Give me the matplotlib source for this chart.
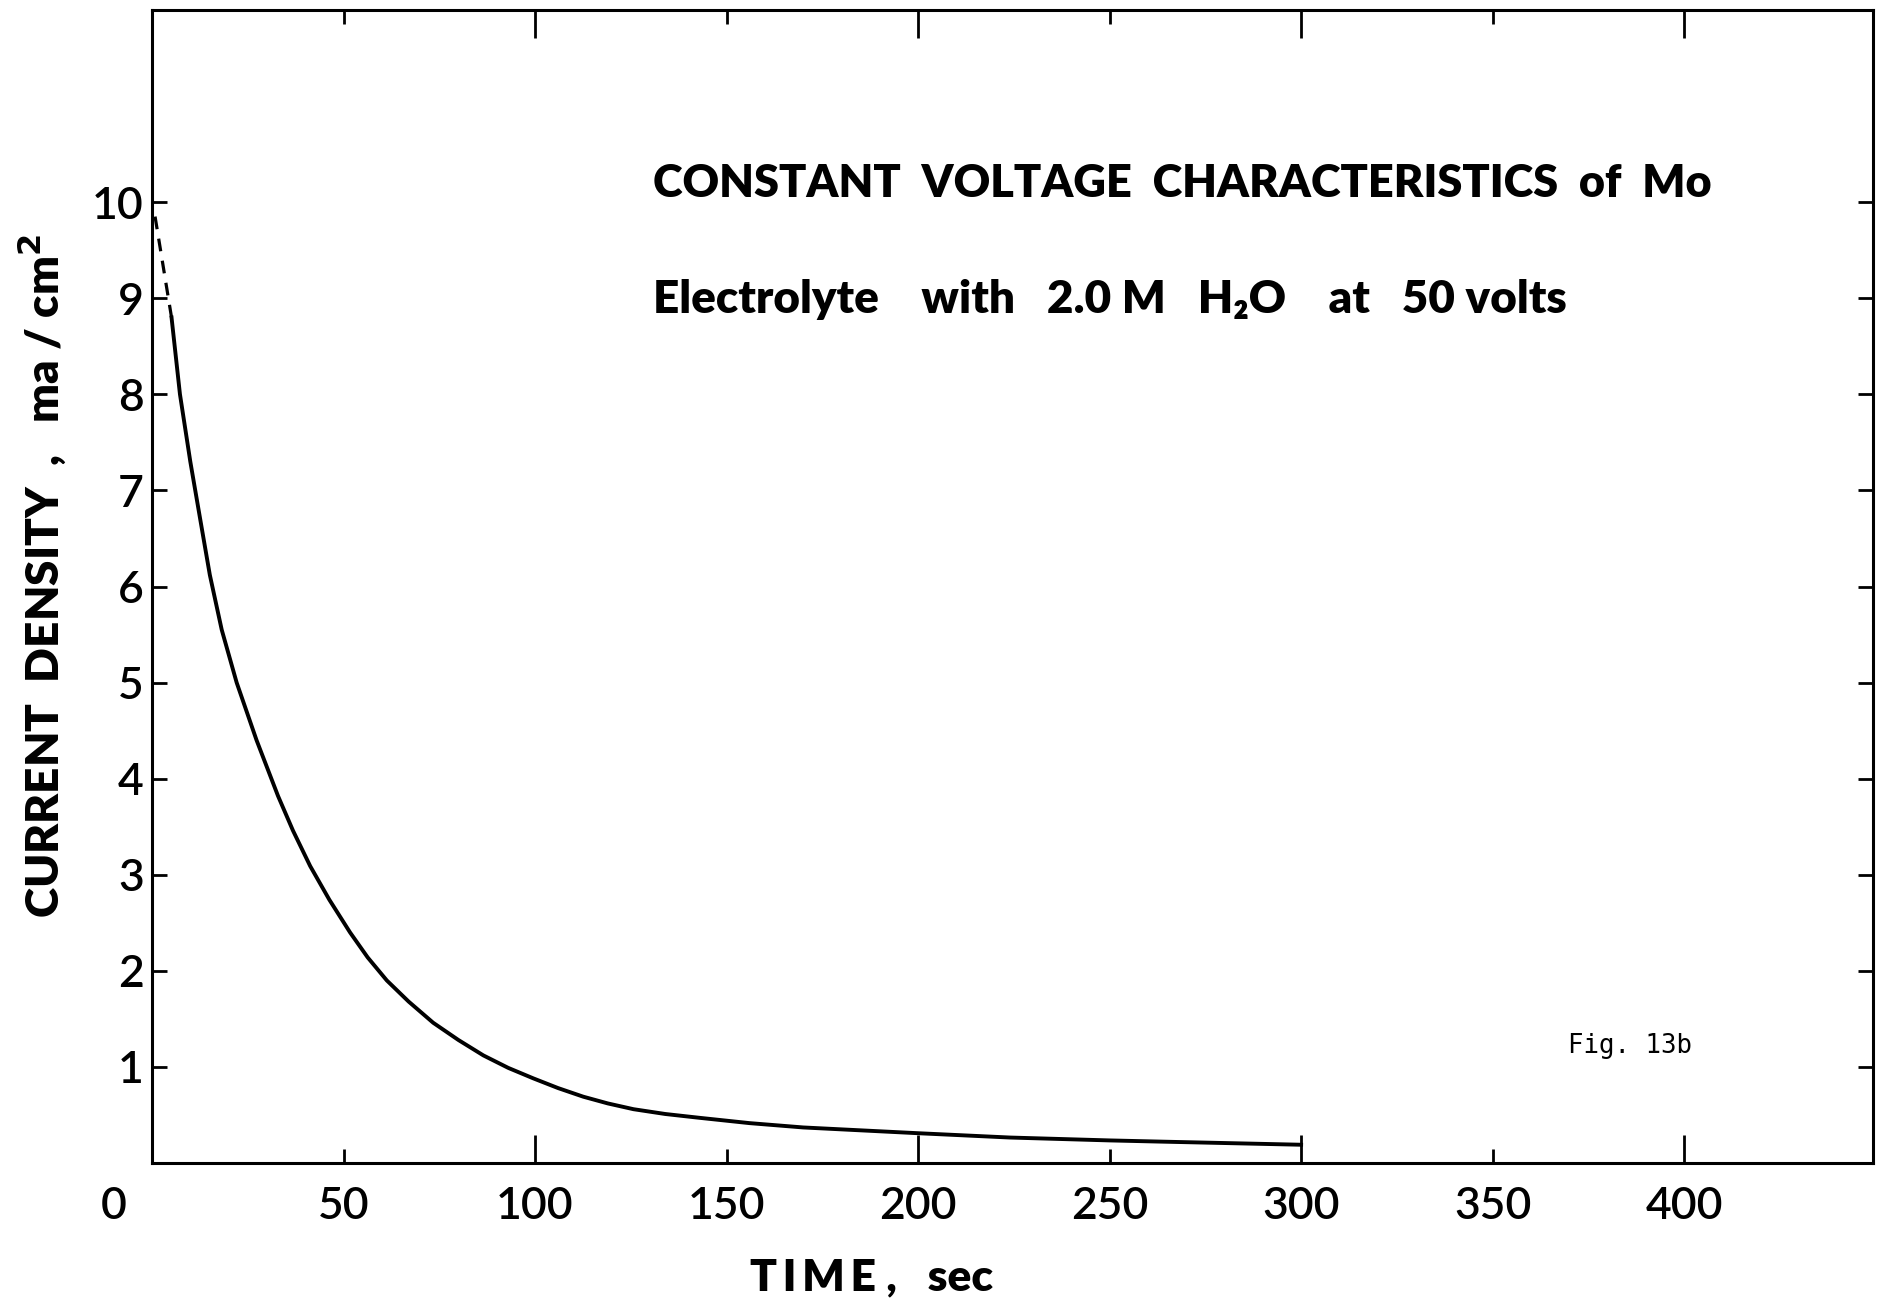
import matplotlib
matplotlib.use("Agg")
import matplotlib.pyplot as plt

# current density vs time
t_extrap = [0.8, 5.1]
j_extrap = [9.85, 8.8]

t_sec = [5.1, 7.3, 10.0, 12.5, 15.1, 18.2, 22.1, 27.3, 32.9, 36.8, 41.3, 46.3,
         51.7, 56.3, 61.3, 67.0, 73.4, 80.0, 86.5, 93.0, 99.6, 106.0, 112.6,
         119.0, 125.7, 134.0, 143.0, 156.0, 170.0, 185.0, 200.0, 224.0, 250.0,
         264.0, 300.0]
j_ma = [8.8, 8.0, 7.3, 6.72, 6.12, 5.55, 5.0, 4.4, 3.82, 3.46, 3.09, 2.74,
        2.40, 2.14, 1.90, 1.68, 1.46, 1.28, 1.12, 0.99, 0.88, 0.78, 0.69,
        0.62, 0.56, 0.51, 0.47, 0.415, 0.37, 0.34, 0.31, 0.265, 0.235,
        0.222, 0.19]

x_major = [100, 200, 300, 400]
x_minor = [50, 150, 250, 350]
x_ticklabels = ["50", "100", "150", "200", "250", "300", "350", "400"]
y_ticks = [1, 2, 3, 4, 5, 6, 7, 8, 9, 10]

title1 = "CONSTANT  VOLTAGE  CHARACTERISTICS  of  Mo"
title2 = "Electrolyte    with   2.0 M   H\u2082O    at   50 volts"

FONT = ["Lato", "DejaVu Sans"]
plt.rcParams["font.family"] = FONT

fig = plt.figure(figsize=(18.8, 13.07), dpi=100)
ax = fig.add_axes([152 / 1880, 1 - 1163 / 1307, (1873 - 152) / 1880, (1163 - 10) / 1307])

ax.plot(t_extrap, j_extrap, color="black", lw=2.3, ls=(0, (4, 3)))
ax.plot(t_sec, j_ma, color="black", lw=2.8, solid_joinstyle="round")

ax.set_xlim(0, 449.3)
ax.set_ylim(0, 12.0)

for s in ax.spines.values():
    s.set_linewidth(2.2)

# x ticks: long at hundreds, short at fifties, inward on top and bottom
ax.set_xticks(x_major)
ax.set_xticks(x_minor, minor=True)
ax.set_xticklabels([])
ax.tick_params(axis="x", which="major", direction="in", length=20, width=2,
               top=True, bottom=True)
ax.tick_params(axis="x", which="minor", direction="in", length=10, width=2,
               top=True, bottom=True)
for v, lab in zip(sorted(x_major + x_minor), x_ticklabels):
    ax.text(v, -0.45, lab, ha="center", va="center", fontsize=32,
            fontweight="semibold")
ax.text(-10, -0.45, "0", ha="center", va="center", fontsize=32,
        fontweight="semibold")

ax.set_yticks(y_ticks)
ax.set_yticklabels([str(v) for v in y_ticks], fontsize=32, fontweight="semibold")
ax.tick_params(axis="y", which="major", direction="in", length=11, width=2,
               left=True, right=True, pad=6)

ax.text(0.291, 0.8495, title1, transform=ax.transAxes, fontsize=32.5,
        fontweight="heavy", ha="left", va="center")
ax.text(0.291, 0.7485, title2, transform=ax.transAxes, fontsize=33,
        fontweight="heavy", ha="left", va="center")

ax.text(1568 / 1880, 1 - 1046 / 1307, "Fig. 13b", transform=fig.transFigure,
        fontsize=18.5, family="DejaVu Sans Mono", ha="left", va="center")

fig.text(872 / 1880, 1 - 1277 / 1307, "T\u2009I\u2009M\u2009E ,   sec", fontsize=32,
         fontweight="heavy", ha="center", va="center")
fig.text(42 / 1880, 1 - 576 / 1307,
         "CURRENT  DENSITY  ,   ma / cm$^{\\mathbf{2}}$",
         fontsize=33, fontweight="heavy", rotation=90, ha="center", va="center")

fig.savefig("out.png", dpi=100)
